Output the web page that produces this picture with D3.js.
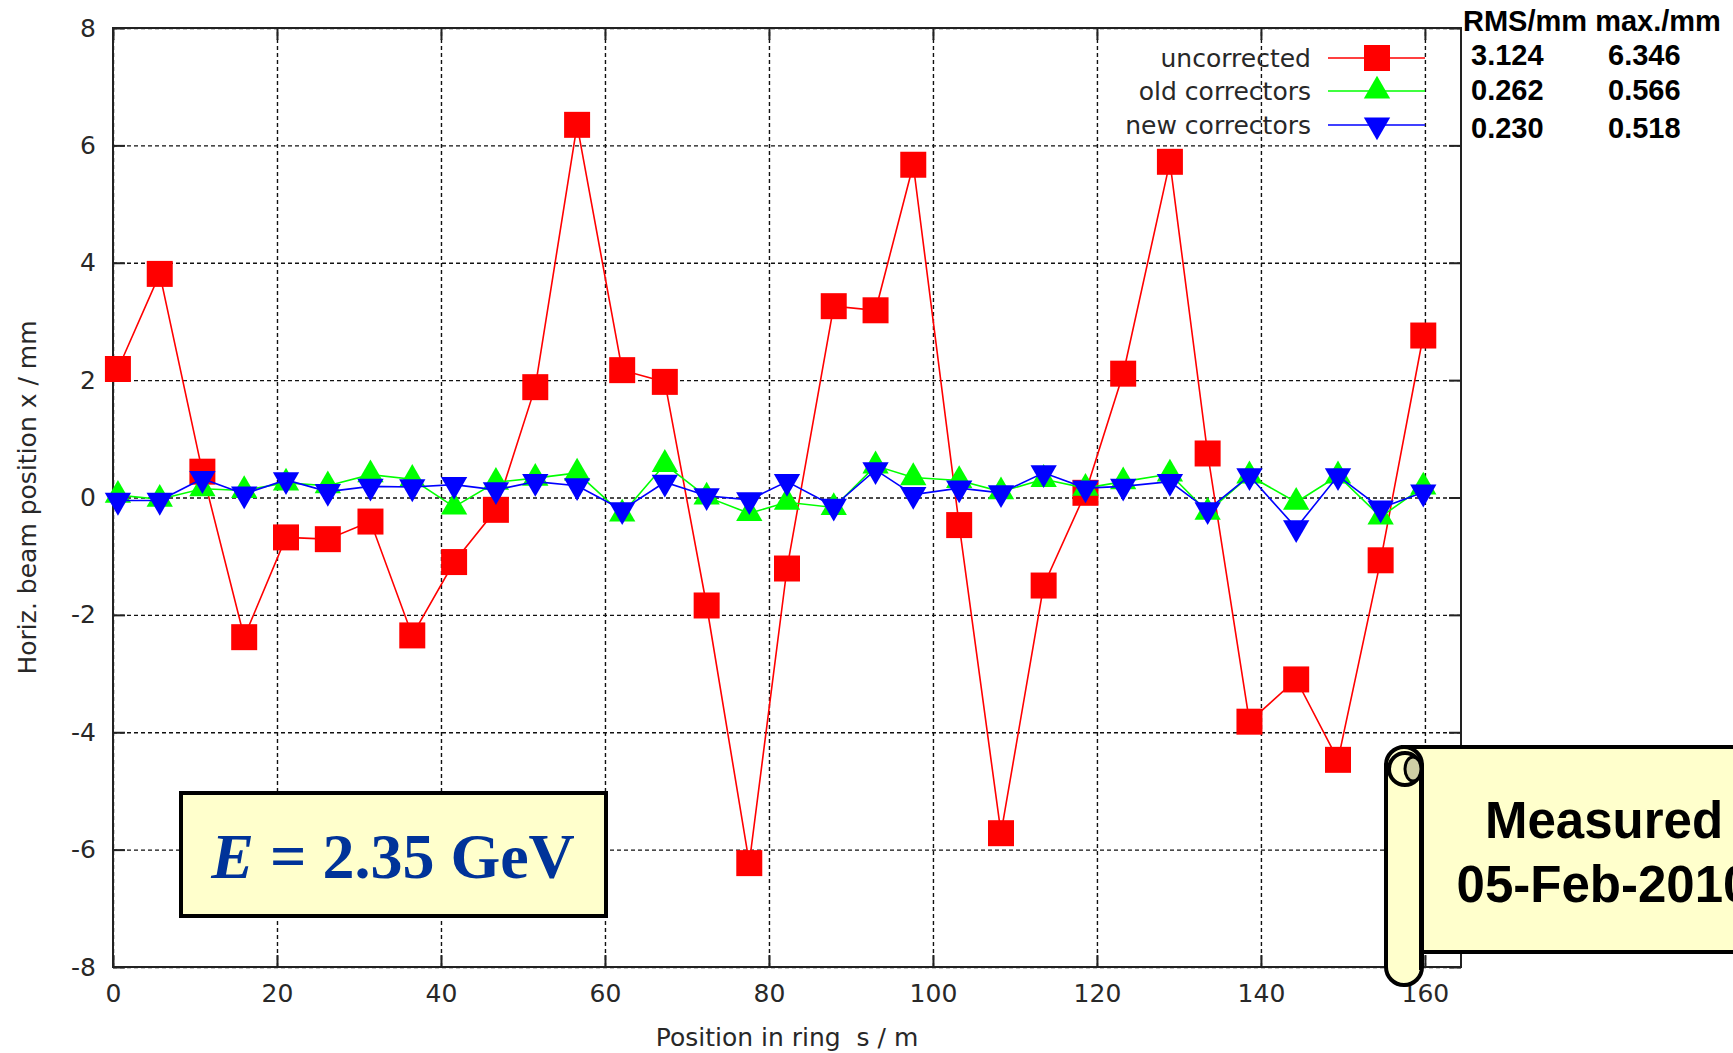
<!DOCTYPE html>
<html>
<head>
<meta charset="utf-8">
<script src="https://cdn.jsdelivr.net/npm/d3@7"></script>
<style>
    body { margin: 0; background: #fff; }
    svg { display: block; }
</style>
</head>
<body>
<svg id="chart" width="1733" height="1053"></svg>
<script>
// BPM positions around the ring (m) and measured orbit (mm)
const positions = [0.6, 5.7, 10.9, 16.0, 21.1, 26.2, 31.4, 36.5, 41.6, 46.7, 51.5, 56.6,
    62.1, 67.3, 72.4, 77.6, 82.2, 87.9, 93.0, 97.6, 103.2, 108.3, 113.5, 118.6,
    123.2, 128.9, 133.5, 138.6, 144.3, 149.4, 154.6, 159.8];
const uncorrected = [2.19, 3.81, 0.44, -2.38, -0.68, -0.71, -0.41, -2.35, -1.10, -0.21, 1.88, 6.35,
    2.17, 1.97, -1.84, -6.23, -1.21, 3.26, 3.19, 5.67, -0.47, -5.72, -1.50, 0.08,
    2.11, 5.72, 0.75, -3.82, -3.10, -4.47, -1.07, 2.76];
const oldCorrectors = [0.04, -0.03, 0.15, 0.12, 0.25, 0.20, 0.39, 0.31, -0.16, 0.26, 0.33, 0.42,
    -0.28, 0.566, 0.01, -0.27, -0.08, -0.17, 0.54, 0.34, 0.29, 0.10, 0.31, 0.16,
    0.27, 0.40, -0.25, 0.37, -0.08, 0.37, -0.33, 0.18];
const newCorrectors = [-0.05, -0.05, 0.32, 0.06, 0.30, 0.10, 0.19, 0.18, 0.22, 0.13, 0.27, 0.20,
    -0.21, 0.26, 0.03, -0.04, 0.27, -0.15, 0.47, 0.05, 0.16, 0.08, 0.42, 0.16,
    0.19, 0.27, -0.21, 0.37, -0.518, 0.37, -0.18, 0.09];

const seriesNames = ["uncorrected", "old correctors", "new correctors"];
const rmsValues = ["3.124", "0.262", "0.230"];
const maxValues = ["6.346", "0.566", "0.518"];
const xTicks = [0, 20, 40, 60, 80, 100, 120, 140, 160];
const yTicks = [-8, -6, -4, -2, 0, 2, 4, 6, 8];

const svg = d3.select("#chart");
const plotLeft = 113, plotRight = 1461, plotTop = 28, plotBottom = 967;
const font = "'DejaVu Sans', sans-serif";
const ink = "#282828";

const x = d3.scaleLinear().domain([0, 164.4]).range([plotLeft, plotRight]);
const y = d3.scaleLinear().domain([-8, 8]).range([plotBottom, plotTop]);

// grid
const grid = svg.append("g");
grid.append("g")
    .attr("transform", `translate(0,${plotBottom})`)
    .call(d3.axisBottom(x).tickValues(xTicks).tickSize(-(plotBottom - plotTop)).tickFormat(""));
grid.append("g")
    .attr("transform", `translate(${plotLeft},0)`)
    .call(d3.axisLeft(y).tickValues(yTicks).tickSize(-(plotRight - plotLeft)).tickFormat(""));
grid.selectAll(".domain").remove();
grid.selectAll("line")
    .attr("stroke", "#111")
    .attr("stroke-width", 1.4)
    .attr("stroke-dasharray", "4,3");

// border and inward ticks on all sides
const styleAxis = g => {
    g.select(".domain").remove();
    g.selectAll("line").attr("stroke", "#222").attr("stroke-width", 2);
    g.selectAll("text").attr("font-family", font).attr("font-size", 25).attr("fill", ink);
};
const plain = d => String(d);
svg.append("g")
    .attr("transform", `translate(0,${plotBottom})`)
    .call(d3.axisBottom(x).tickValues(xTicks).tickSize(-12).tickPadding(17).tickFormat(plain))
    .call(styleAxis);
svg.append("g")
    .attr("transform", `translate(${plotLeft},0)`)
    .call(d3.axisLeft(y).tickValues(yTicks).tickSize(-12).tickPadding(17).tickFormat(plain))
    .call(styleAxis);
svg.append("g")
    .attr("transform", `translate(0,${plotTop})`)
    .call(d3.axisTop(x).tickValues(xTicks).tickSize(-12).tickFormat(""))
    .call(styleAxis);
svg.append("g")
    .attr("transform", `translate(${plotRight},0)`)
    .call(d3.axisRight(y).tickValues(yTicks).tickSize(-12).tickFormat(""))
    .call(styleAxis);

svg.append("rect")
    .attr("x", plotLeft).attr("y", plotTop)
    .attr("width", plotRight - plotLeft).attr("height", plotBottom - plotTop)
    .attr("fill", "none").attr("stroke", "#222").attr("stroke-width", 2);

// axis titles
svg.append("text")
    .attr("x", (plotLeft + plotRight) / 2).attr("y", 1046)
    .attr("text-anchor", "middle")
    .attr("font-family", font).attr("font-size", 25).attr("fill", ink)
    .style("white-space", "pre")
    .text("Position in ring  s / m");
svg.append("text")
    .attr("transform", `translate(36,${(plotTop + plotBottom) / 2}) rotate(-90)`)
    .attr("text-anchor", "middle")
    .attr("font-family", font).attr("font-size", 25).attr("fill", ink)
    .text("Horiz. beam position x / mm");

// series
const series = [
    {name: seriesNames[0], values: uncorrected, color: "#ff0000", symbol: d3.symbolSquare, size: 676, rot: 0},
    {name: seriesNames[1], values: oldCorrectors, color: "#00ff00", symbol: d3.symbolTriangle, size: 300, rot: 0},
    {name: seriesNames[2], values: newCorrectors, color: "#0000ff", symbol: d3.symbolTriangle, size: 300, rot: 180}
];

const line = d3.line()
    .x((d, i) => x(positions[i]))
    .y(d => y(d));

series.forEach(s => {
    const g = svg.append("g");
    g.append("path")
        .datum(s.values)
        .attr("fill", "none")
        .attr("stroke", s.color)
        .attr("stroke-width", 1.6)
        .attr("d", line);
    g.selectAll("path.pt")
        .data(s.values)
        .join("path")
        .attr("class", "pt")
        .attr("fill", s.color)
        .attr("transform", (d, i) => `translate(${x(positions[i])},${y(d)}) rotate(${s.rot})`)
        .attr("d", d3.symbol(s.symbol, s.size));
});

// legend
const legendRows = [58, 91, 125];
series.forEach((s, i) => {
    const g = svg.append("g").attr("transform", `translate(0,${legendRows[i]})`);
    g.append("text")
        .attr("x", 1311).attr("dy", "0.36em")
        .attr("text-anchor", "end")
        .attr("font-family", font).attr("font-size", 25).attr("fill", ink)
        .text(s.name);
    g.append("line")
        .attr("x1", 1328).attr("x2", 1425)
        .attr("stroke", s.color).attr("stroke-width", 1.6);
    g.append("path")
        .attr("fill", s.color)
        .attr("transform", `translate(1377,0) rotate(${s.rot})`)
        .attr("d", d3.symbol(s.symbol, s.size));
});

// RMS / max table
const bold = "'Liberation Sans', Arial, sans-serif";
svg.append("text")
    .attr("x", 1463).attr("y", 31)
    .attr("font-family", bold).attr("font-weight", "bold").attr("font-size", 29)
    .text("RMS/mm max./mm");
const tableRows = [65, 100, 138];
tableRows.forEach((ty, i) => {
    svg.append("text").attr("x", 1471).attr("y", ty)
        .attr("font-family", bold).attr("font-weight", "bold").attr("font-size", 29)
        .text(rmsValues[i]);
    svg.append("text").attr("x", 1608).attr("y", ty)
        .attr("font-family", bold).attr("font-weight", "bold").attr("font-size", 29)
        .text(maxValues[i]);
});

// energy box
svg.append("rect")
    .attr("x", 181).attr("y", 793).attr("width", 425).attr("height", 123)
    .attr("fill", "#ffffcc").attr("stroke", "#000").attr("stroke-width", 4);
const eText = svg.append("text")
    .attr("x", 393).attr("y", 878)
    .attr("text-anchor", "middle")
    .attr("font-family", "'Liberation Serif', 'Times New Roman', serif")
    .attr("font-weight", "bold").attr("font-size", 64).attr("fill", "#003399");
eText.append("tspan").attr("font-style", "italic").text("E");
eText.append("tspan").text(" = 2.35 GeV");

// scroll with measurement date (runs off the right edge as in the original slide)
const scroll = svg.append("g");
scroll.append("rect")
    .attr("x", 1403).attr("y", 747).attr("width", 420).attr("height", 205)
    .attr("fill", "#ffffcc").attr("stroke", "#000").attr("stroke-width", 4);
scroll.append("rect")
    .attr("x", 1386).attr("y", 747).attr("width", 36).attr("height", 238)
    .attr("rx", 18).attr("ry", 18)
    .attr("fill", "#ffffcc").attr("stroke", "#000").attr("stroke-width", 4);
scroll.append("circle")
    .attr("cx", 1405).attr("cy", 769).attr("r", 16)
    .attr("fill", "#ffffcc").attr("stroke", "#000").attr("stroke-width", 4);
scroll.append("ellipse")
    .attr("cx", 1413).attr("cy", 769).attr("rx", 8).attr("ry", 12)
    .attr("fill", "#cfcfa5").attr("stroke", "#000").attr("stroke-width", 3);
scroll.append("line")
    .attr("x1", 1421).attr("x2", 1421).attr("y1", 772).attr("y2", 970)
    .attr("stroke", "#000").attr("stroke-width", 4);
scroll.append("text")
    .attr("x", 1604).attr("y", 838)
    .attr("text-anchor", "middle")
    .attr("font-family", bold).attr("font-weight", "bold").attr("font-size", 51)
    .text("Measured");
scroll.append("text")
    .attr("x", 1604).attr("y", 902)
    .attr("text-anchor", "middle")
    .attr("font-family", bold).attr("font-weight", "bold").attr("font-size", 51)
    .text("05-Feb-2010");
</script>
</body>
</html>
